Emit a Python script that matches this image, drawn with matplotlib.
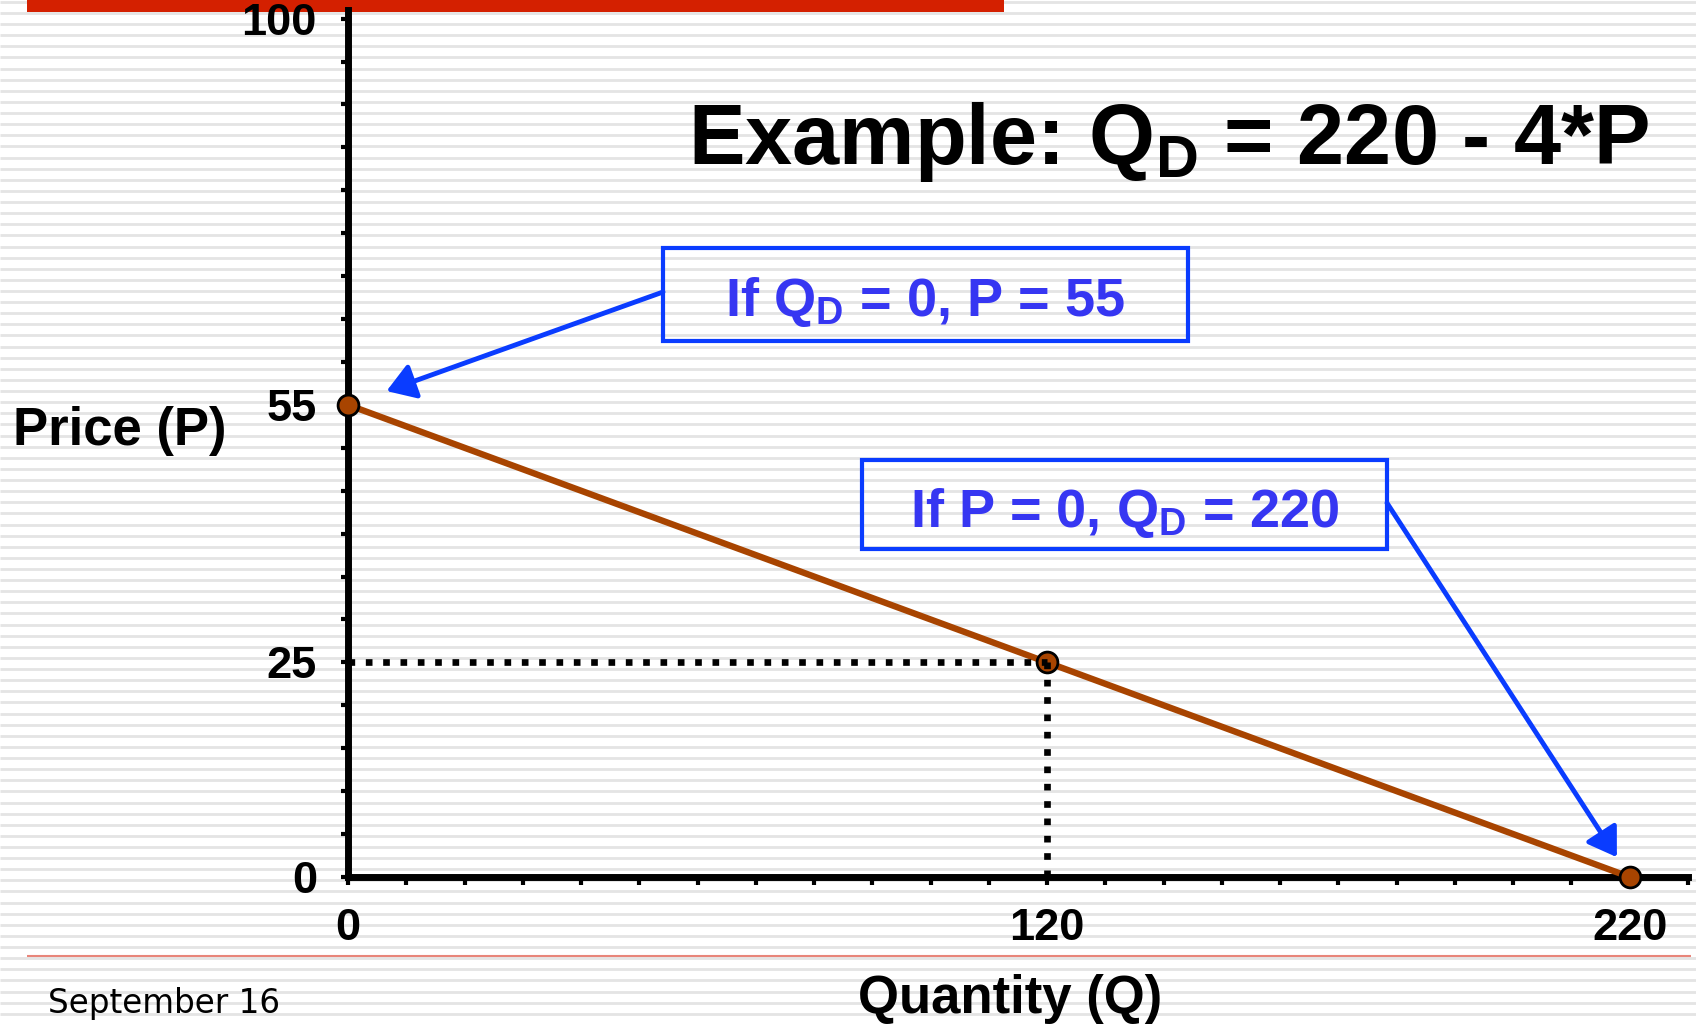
import numpy as np
import matplotlib
matplotlib.use('Agg')
import matplotlib.pyplot as plt
from matplotlib.patches import Rectangle

# Demand curve Q_D = 220 - 4*P, points marked on the curve
q_points = [0, 120, 220]
p_points = [55, 25, 0]

# Axis ticks and which of them carry a label
x_ticks = list(range(0, 231, 10))
x_labeled = [0, 120, 220]
y_ticks = list(range(0, 101, 5))
y_labeled = [0, 25, 55, 100]

plt.rcParams['font.family'] = ['Liberation Sans', 'DejaVu Sans']
plt.rcParams['font.weight'] = 'bold'

W, H = 1696, 1024
fig = plt.figure(figsize=(W / 100, H / 100), dpi=100)

# Slide background in pixel units: ruled stripes, red bar, footer rule
bg = fig.add_axes([0, 0, 1, 1])
bg.set_xlim(0, W)
bg.set_ylim(H, 0)
bg.axis('off')
bg.hlines(np.arange(1.9, H, 11.12), 0, W, color='#e4e4e4', lw=2.0, zorder=0)
bg.add_patch(Rectangle((27, 0), 977, 12, color='#d42000', lw=0, zorder=1))
bg.hlines(956, 27, 1691, color='#e8857a', lw=1.5, zorder=1)

blue = '#0a3cff'
text_blue = '#3636f2'

# Callout boxes
bg.add_patch(Rectangle((663, 248), 525, 93, fill=False, ec=blue, lw=3, zorder=2))
bg.text(925, 316, r'If $\mathregular{Q_D}$ = 0, P = 55', ha='center', va='baseline',
        color=text_blue, fontsize=39, zorder=3)
bg.add_patch(Rectangle((862, 460), 525, 89, fill=False, ec=blue, lw=3, zorder=2))
bg.text(1125, 527, r'If P = 0, $\mathregular{Q_D}$ = 220', ha='center', va='baseline',
        color=text_blue, fontsize=39, zorder=3)

# Main plot
ax = fig.add_axes([348 / W, 147 / H, 1340 / W, 867 / H])
ax.patch.set_alpha(0)
ax.set_xlim(0, 230)
ax.set_ylim(0, 101)
for side in ['top', 'right']:
    ax.spines[side].set_visible(False)
for side in ['left', 'bottom']:
    ax.spines[side].set_linewidth(5)

ax.set_xticks(x_ticks)
ax.set_xticklabels([str(t) if t in x_labeled else '' for t in x_ticks])
ax.set_yticks(y_ticks)
ax.set_yticklabels([str(t) if t in y_labeled else '' for t in y_ticks])
ax.tick_params(length=5.4, width=3, labelsize=32.5, pad=17)

# Dotted guides to the point (120, 25)
ax.plot([0, q_points[1]], [p_points[1], p_points[1]], color='black', lw=4.8,
        linestyle=(0, (1, 1.6)), dash_capstyle='butt', zorder=4, clip_on=False)
ax.plot([q_points[1], q_points[1]], [p_points[1], 0], color='black', lw=4.8,
        linestyle=(0, (1, 1.6)), dash_capstyle='butt', zorder=4, clip_on=False)

# Demand line
ax.plot(q_points, p_points, color='#a84400', lw=4.6, marker='o', markersize=15,
        markerfacecolor='#a84400', markeredgecolor='black', markeredgewidth=2,
        zorder=3, clip_on=False)

# Arrows from the callouts to the intercepts
arrow_style = '-|>,head_length=0.85,head_width=0.55'
ax.annotate('', xy=(q_points[0], p_points[0]), xytext=(663, 292), textcoords=bg.transData,
            arrowprops=dict(arrowstyle=arrow_style, color=blue,
                            lw=3.5, shrinkA=0, shrinkB=29.5, mutation_scale=20))
ax.annotate('', xy=(q_points[2], p_points[2]), xytext=(1387, 503), textcoords=bg.transData,
            arrowprops=dict(arrowstyle=arrow_style, color=blue,
                            lw=3.5, shrinkA=0, shrinkB=17, mutation_scale=20))

# Titles and axis names
fig.text(688 / W, 1 - 164 / H, r'Example: $\mathregular{Q_D}$ = 220 - 4*P', fontsize=61,
         va='baseline')
fig.text(13 / W, 1 - 445 / H, 'Price (P)', fontsize=38, va='baseline')
fig.text(1010 / W, 1 - 1013 / H, 'Quantity (Q)', fontsize=38, va='baseline', ha='center')
fig.text(48 / W, 1 - 1013 / H, 'September 16', fontsize=23.5, va='baseline',
         fontweight='normal', family='DejaVu Sans')

fig.savefig('out.png', dpi=100)
